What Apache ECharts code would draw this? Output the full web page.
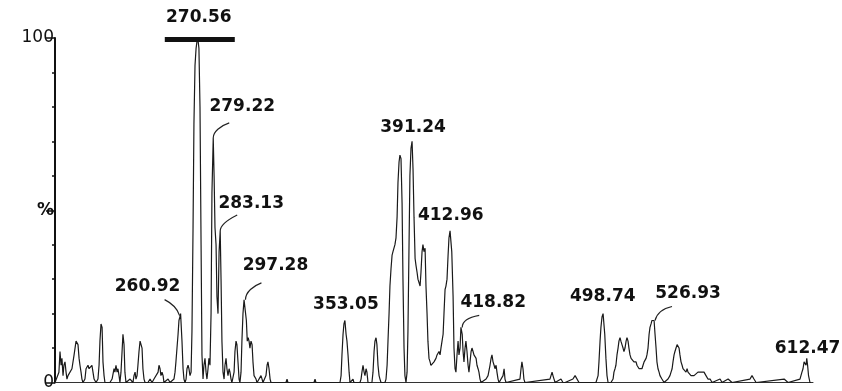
<!DOCTYPE html>
<html>
<head>
<meta charset="utf-8">
<script src="https://cdn.jsdelivr.net/npm/echarts@6/dist/echarts.min.js"></script>
<style>
  html, body { margin: 0; padding: 0; background: #fff; }
  #chart { width: 842px; height: 391px; }
</style>
</head>
<body>
<div id="chart"></div>
<script>
// Mass spectrum: m/z vs relative abundance (%)
const specMz = [
  190.5, 191.6, 192.7, 193.3, 193.9, 194.4, 195.0, 195.5, 196.1, 196.7, 197.2, 197.8, 198.9, 200.0,
  201.2, 202.3, 202.8, 203.4, 204.0, 204.5, 205.1, 205.6, 206.2, 207.3, 207.9, 209.0, 209.6, 210.7,
  211.2, 211.8, 212.4, 213.5, 214.6, 215.2, 215.7, 216.3, 216.9, 217.4, 218.0, 218.5, 219.7, 221.3,
  222.5, 223.6, 224.1, 224.7, 225.3, 225.8, 226.4, 226.9, 227.5, 228.1, 228.6, 229.2, 229.7, 230.3,
  231.4, 232.6, 234.2, 234.8, 235.4, 235.9, 236.5, 237.0, 237.6, 238.2, 238.7, 239.3, 239.8, 240.4,
  241.0, 242.6, 243.8, 244.9, 246.0, 247.1, 248.3, 248.8, 249.4, 249.9, 250.5, 251.1, 251.6, 252.7,
  253.9, 255.0, 256.1, 257.2, 257.8, 258.3, 258.9, 259.5, 260.0, 260.5, 260.92, 261.7, 262.3, 262.8,
  263.4, 264.0, 264.5, 265.1, 265.6, 266.2, 266.8, 267.3, 267.9, 268.4, 269.0, 269.6, 270.1, 270.56,
  271.2, 271.8, 272.4, 272.9, 273.5, 274.0, 274.6, 275.2, 275.7, 276.3, 276.8, 277.4, 278.0, 278.5,
  279.22, 279.7, 280.2, 280.8, 281.3, 281.9, 282.5, 283.13, 283.6, 284.1, 284.7, 285.3, 285.8, 286.4,
  286.9, 287.5, 288.1, 288.6, 289.2, 289.7, 290.9, 291.4, 292.0, 292.5, 293.1, 293.7, 294.2, 294.8,
  295.3, 295.9, 296.5, 297.28, 297.8, 298.3, 298.8, 299.3, 299.8, 300.4, 301.0, 301.5, 302.1, 302.6,
  303.2, 303.8, 304.9, 306.0, 306.6, 307.1, 308.2, 308.8, 309.4, 309.9, 310.5, 311.1, 311.6, 320.0,
  320.6, 321.1, 335.7, 336.3, 336.8, 350.3, 350.9, 351.4, 352.0, 352.5, 353.05, 353.7, 354.2, 354.8,
  355.4, 355.9, 357.0, 357.6, 358.1, 361.5, 362.1, 362.6, 363.2, 363.8, 364.3, 364.9, 365.4, 366.0,
  367.1, 368.2, 368.8, 369.4, 369.9, 370.5, 371.0, 371.6, 372.2, 372.7, 373.3, 374.4, 375.5, 376.1,
  376.7, 377.2, 377.8, 378.3, 378.9, 379.5, 380.0, 380.6, 381.1, 381.7, 382.3, 382.8, 383.4, 383.9,
  384.5, 385.1, 385.6, 386.2, 386.7, 387.3, 387.9, 388.4, 389.0, 389.5, 390.1, 390.7, 391.24, 391.8,
  392.4, 392.9, 393.5, 394.0, 394.6, 395.2, 395.7, 396.3, 396.8, 397.4, 398.0, 398.5, 399.1, 399.6,
  400.2, 400.8, 401.3, 401.9, 402.4, 403.0, 403.6, 404.1, 404.7, 405.2, 405.8, 406.4, 406.9, 407.5,
  408.1, 408.6, 409.2, 409.7, 410.3, 410.9, 411.4, 412.0, 412.5, 412.96, 413.7, 414.2, 414.8, 415.3,
  415.9, 416.5, 417.0, 417.6, 418.1, 418.82, 419.3, 419.8, 420.4, 420.9, 421.5, 422.1, 422.6, 423.2,
  423.8, 424.3, 424.9, 425.4, 426.0, 426.6, 427.1, 427.7, 428.2, 428.8, 429.4, 429.9, 432.2, 433.3,
  434.4, 435.0, 435.5, 436.1, 436.7, 437.2, 437.8, 438.3, 438.9, 439.5, 440.0, 441.7, 442.3, 442.8,
  443.4, 443.9, 451.2, 451.8, 452.3, 452.9, 453.4, 454.0, 454.6, 468.0, 469.2, 469.7, 470.3, 470.9,
  471.4, 474.2, 475.3, 476.5, 480.9, 482.1, 483.2, 484.3, 485.4, 493.8, 495.0, 495.5, 496.1, 496.6,
  497.2, 497.8, 498.3, 498.74, 499.4, 500.0, 500.6, 501.1, 502.2, 503.4, 503.9, 504.5, 505.0, 505.6,
  506.2, 506.7, 507.3, 507.8, 508.4, 509.0, 509.5, 510.1, 510.7, 511.2, 511.8, 512.3, 512.9, 513.5,
  514.0, 514.6, 515.1, 515.7, 516.3, 516.8, 517.4, 518.0, 518.5, 519.1, 519.6, 520.2, 520.8, 521.3,
  521.9, 522.4, 523.0, 523.6, 524.1, 524.7, 525.2, 525.8, 526.4, 526.93, 527.5, 528.0, 528.6, 529.2,
  529.7, 530.3, 530.8, 531.4, 532.0, 532.5, 534.2, 535.3, 535.9, 536.5, 537.0, 537.6, 538.1, 538.7,
  539.3, 539.8, 540.4, 540.9, 541.5, 542.1, 542.6, 543.2, 543.7, 544.3, 544.9, 545.4, 546.0, 546.5,
  547.1, 547.7, 548.8, 549.9, 551.0, 552.2, 553.3, 554.4, 555.5, 556.6, 557.8, 558.9, 560.0, 563.4,
  564.5, 565.6, 567.9, 569.0, 570.1, 571.2, 580.2, 581.3, 582.4, 583.6, 584.1, 599.3, 600.4, 601.5,
  602.6, 608.2, 609.3, 609.9, 610.5, 611.0, 611.6, 612.0, 612.47, 613.0, 613.8, 614.4, 615.5
];
const specInt = [
  0, 0, 3, 9, 5, 7, 2, 5, 6, 3, 1, 2, 2, 4,
  8, 12, 12, 11, 7, 5, 3, 1, 0, 1, 4, 5, 4, 4,
  5, 3, 1, 0, 1, 5, 12, 17, 16, 6, 2, 0, 0, 0,
  1, 4, 3, 5, 3, 4, 2, 0, 3, 9, 14, 11, 3, 0,
  0, 1, 0, 2, 3, 1, 2, 5, 9, 12, 12, 10, 4, 1,
  0, 0, 1, 0, 1, 1, 3, 5, 4, 2, 3, 2, 0, 0,
  1, 0, 0, 1, 3, 6, 10, 14, 18, 19, 20, 12, 4, 1,
  0, 1, 4, 5, 4, 2, 3, 15, 45, 75, 92, 97, 99, 100,
  97, 80, 40, 8, 1, 5, 7, 3, 1, 4, 7, 5, 20, 55,
  71, 60, 45, 40, 25, 20, 38, 44, 30, 12, 3, 1, 5, 7,
  4, 2, 4, 3, 1, 0, 3, 9, 12, 11, 6, 1, 0, 3,
  12, 20, 24, 24, 18, 12, 13, 12, 10, 12, 11, 6, 2, 2,
  1, 0, 0, 2, 1, 0, 0, 2, 5, 6, 4, 1, 0, 0,
  1, 0, 0, 1, 0, 0, 2, 8, 14, 17, 18, 14, 12, 8,
  3, 0, 0, 1, 0, 0, 1, 3, 5, 3, 2, 4, 3, 0,
  0, 0, 3, 9, 12, 13, 11, 5, 2, 1, 0, 0, 0, 1,
  5, 12, 20, 28, 33, 37, 38, 38, 40, 42, 48, 58, 64, 66,
  65, 52, 30, 10, 2, 0, 3, 15, 40, 60, 68, 70, 62,
  48, 36, 34, 32, 30, 30, 28, 32, 38, 40, 38, 39, 28, 20,
  12, 7, 6, 5, 5, 5, 6, 6, 7, 8, 8, 9, 8, 10,
  12, 14, 20, 27, 28, 30, 37, 42, 44, 44, 38, 25, 10, 4,
  3, 8, 12, 8, 10, 16, 14, 9, 6, 10, 12, 9, 5, 3,
  6, 9, 10, 9, 8, 8, 7, 5, 4, 3, 1, 0, 0, 1,
  2, 5, 7, 8, 6, 5, 4, 5, 3, 1, 0, 0, 2, 4,
  1, 0, 0, 1, 4, 6, 4, 1, 0, 0, 1, 3, 2, 1,
  0, 0, 1, 0, 0, 1, 2, 2, 0, 0, 0, 2, 6, 12,
  16, 19, 20, 20, 14, 7, 2, 0, 0, 0, 1, 3, 4, 5,
  8, 10, 12, 13, 12, 11, 10, 9, 10, 12, 13, 12, 10, 8,
  7, 7, 7, 6, 6, 6, 5, 5, 4, 4, 4, 4, 5, 6,
  6, 7, 8, 10, 14, 16, 17, 18, 17.5, 18, 14, 10, 6, 4,
  3, 2, 2, 1, 1, 0, 0, 1, 2, 3, 4, 6, 8, 9,
  10, 11, 11, 10, 8, 6, 5, 4, 4, 4, 3, 4, 3, 3,
  3, 2, 2, 2, 2, 3, 3, 3, 3, 2, 1, 1, 0, 0,
  1, 0, 0, 1, 1, 0, 0, 1, 2, 1, 0, 0, 1, 1,
  0, 0, 1, 3, 4, 6, 6, 5, 7, 5, 2, 0, 0
];

// Annotated peaks
const peakMz = [270.56, 279.22, 283.13, 260.92, 297.28, 353.05, 391.24, 412.96, 418.82, 498.74, 526.93, 612.47];
const peakInt = [100, 71, 44, 20, 24, 18, 70, 44, 16, 20, 18, 7];

// Y axis tick labels
const yTickValues = [0, 50, 100];
const yTickText = ['0', '%', '100'];

// Label placement relative to each peak tip (px) and optional leader path
const annLayout = [
  { dx: 1, dy: -20, bar: true },
  { dx: 29, dy: -31, leader: 'M0 0 C0 -6 7 -12 16 -15' },
  { dx: 31, dy: -27, leader: 'M0 0 C0 -6 9 -12 17 -16' },
  { dx: -33, dy: -27, leader: 'M-16 -14 Q-4 -8 -1 2' },
  { dx: 30, dy: -34, leader: 'M0 0 C0 -8 8 -14 16 -17' },
  { dx: 1, dy: -16 },
  { dx: 0, dy: -14 },
  { dx: -1, dy: -15 },
  { dx: 31, dy: -25, leader: 'M0 0 C0 -6 6 -10 17 -12' },
  { dx: -2, dy: -17 },
  { dx: 33, dy: -27, leader: 'M0 0 C2 -8 8 -12 17 -14' },
  { dx: 0, dy: -10 }
];

const ink = '#111';
const chart = echarts.init(document.getElementById('chart'), null, { renderer: 'canvas' });

chart.setOption({
  animation: false,
  backgroundColor: '#fff',
  grid: { left: 55, right: 29, top: 38, bottom: 5, containLabel: false },
  xAxis: {
    type: 'value',
    min: 190.5,
    max: 615.5,
    axisLine: { show: true, lineStyle: { color: '#333', width: 1 } },
    axisTick: { show: false },
    axisLabel: { show: false },
    splitLine: { show: false }
  },
  yAxis: {
    type: 'value',
    min: 0,
    max: 100,
    interval: 50,
    axisLine: { show: true, lineStyle: { color: ink, width: 2 } },
    axisTick: { show: true, inside: false, length: 9, lineStyle: { color: ink, width: 1.5 } },
    minorTick: { show: true, splitNumber: 5, length: 3, lineStyle: { color: ink, width: 1.5 } },
    axisLabel: {
      margin: 1,
      color: ink,
      fontFamily: 'DejaVu Sans',
      fontSize: 17,
      formatter: function (v) {
        const k = yTickValues.indexOf(v);
        if (k < 0) return '';
        return v === 50 ? '{b|' + yTickText[k] + '}' : yTickText[k];
      },
      rich: {
        b: { fontFamily: 'DejaVu Sans', fontSize: 17, fontWeight: 'bold', color: ink }
      }
    },
    splitLine: { show: false },
    minorSplitLine: { show: false }
  },
  series: [
    {
      type: 'line',
      data: specMz.map((m, i) => [m, specInt[i]]),
      symbol: 'none',
      lineStyle: { color: '#1a1a1a', width: 1.2 },
      z: 2
    },
    {
      type: 'custom',
      clip: false,
      z: 3,
      data: peakMz.map((m, i) => [m, peakInt[i], i]),
      renderItem: function (params, api) {
        const i = api.value(2);
        const p = api.coord([api.value(0), api.value(1)]);
        const lay = annLayout[i];
        const children = [{
          type: 'text',
          style: {
            text: peakMz[i].toFixed(2),
            x: p[0] + lay.dx,
            y: p[1] + lay.dy,
            align: 'center',
            verticalAlign: 'middle',
            font: 'bold 17px "DejaVu Sans"',
            fill: ink
          }
        }];
        if (lay.bar) {
          children.push({
            type: 'rect',
            shape: { x: p[0] - 33, y: p[1] - 1, width: 70, height: 5 },
            style: { fill: ink }
          });
        }
        if (lay.leader) {
          children.push({
            type: 'path',
            x: p[0],
            y: p[1],
            shape: { pathData: lay.leader },
            style: { stroke: '#222', fill: null, lineWidth: 1.2 }
          });
        }
        return { type: 'group', children: children };
      }
    }
  ]
});
</script>
</body>
</html>
